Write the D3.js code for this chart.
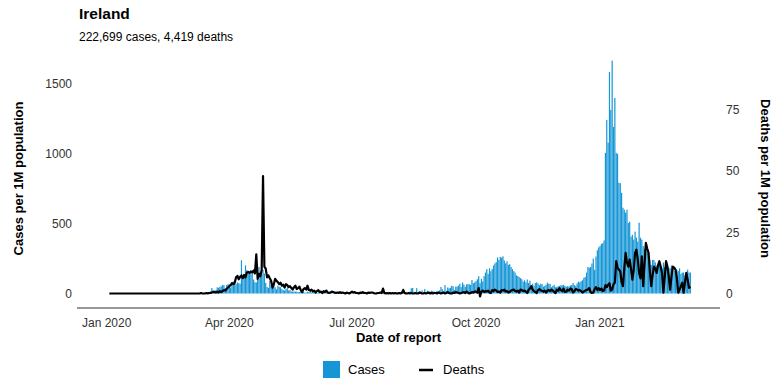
<!DOCTYPE html>
<html lang="en">
<head>
  <meta charset="UTF-8" />
  <title>Ireland - cases and deaths</title>
  <script src="https://d3js.org/d3.v7.min.js"></script>
  <style>
    html, body {
      margin: 0;
      padding: 0;
      background: #fff;
      overflow: hidden;
      font-family: 'Liberation Sans', Arial, Helvetica, sans-serif;
    }
    svg { display: block; }
  </style>
</head>
<body>
  <svg width="784" height="392"></svg>

  <script>
    const title = "Ireland";
    const subtitle = "222,699 cases, 4,419 deaths";
    const firstDay = Date.UTC(2020, 0, 3);

    // daily cases per 1M population, from Jan 3 2020
    const cases = [
      0,0,0,0,0,0,0,0,0,0,0,0,0,0,0,0,0,0,0,0,0,0,0,0,0,0,0,0,0,
      0,0,0,0,0,0,0,0,0,0,0,0,0,0,0,0,0,0,0,0,0,0,0,0,0,0,0,0,0,
      0,0,0.2,0.4,1.2,1,0.6,0.4,0.8,2, 2,1.8,5.5,4,7.9,8,11,15,39,25, 21,24,44,41,48,52,61,60,40,60,66,
      66,43,81,86,79,67,79,74,70,238, 101,112,201,168,150,147,144,157,100,81, 79,128,190,117,142,170,142,76,47,40,
      90,60,70,68,45,30,55,48,45,32, 24,22,32,43,21,26,14,14,15,13, 13,11,11,12,8,12,6,7,13,10,15,
      7,3,4,5,4,7,4,3,2,3, 4,5,4,3,2,3,3,4,3,2, 2,2,1,1,2,3,2,1,3,2,
      3,2,1,2,2,1,2,2,3,4, 4,5,3,4,4,2,5,4,5,6, 4,3,4,7,6,9,4,6,8,4,6,
      6,8,5,9,7,11,6,35,14,10, 7,8,14,38,40,13,11,38,10,15, 14,22,11,32,11,20,13,13,20,18,13,
      10,19,15,23,47,31,18,60,20,43, 37,41,55,52,25,50,49,56,70,46, 79,64,48,65,67,66,62,96,74,79,
      89,102,124,74,105,87,124,150,175,140, 180,160,175,200,215,225,258,240,262,257, 266,236,216,230,205,210,190,175,160,150,130,
      125,118,110,102,85,95,80,100,75,92, 62,70,55,75,80,72,60,70,68,50, 55,63,78,70,68,45,55,62,45,48,
      52,55,60,58,62,55,48,53,50,58, 62,75,60,55,72,85,80,88,95,112, 118,150,190,185,190,215,250,170,265,310, 330,
      340,355,360,380,1007,1243,1080,1586,1314,1667, 1193,1400,1007,1000,793,790,721,614,600,579, 600,505,514,407,420,386,443,400,371,507,400,
      386,340,320,300,293,270,240,205,240,240, 222,200,190,200,185,180,222,190,180,190, 185,180,200,180,160,140,170,160,
      180,140,150,150,130,140,170,150,150
    ];

    // daily deaths per 1M population, same days
    const deaths = [
      0,0,0,0,0,0,0,0,0,0,0,0,0,0,0,0,0,0,0,0,0,0,0,0,0,0,0,0,0,
      0,0,0,0,0,0,0,0,0,0,0,0,0,0,0,0,0,0,0,0,0,0,0,0,0,0,0,0,0,
      0,0,0,0,0,0,0,0,0,0, 0.2,0,0,0,0.2,0,0.2,0.2,0.4,0.6, 0.6,0.4,0.8,0.4,1,0.6,1,1.4,1.2,1.8,2.4,
      3,3.4,4.2,3.8,4.4,6.6,7.2,5.8,6.8,7.4, 6.2,7.6,6.6,8.6,8.8,8.4,9,8.6,9.4,8.2, 16,6,8,7,9.6,48,11,10.2,6.6,7.4,
      6.2,5.2,2.4,3.8,6,5.2,4.6,3.8,4.4,3.2, 3.6,2.4,3.8,3.4,2.6,3,2.2,1.6,2.6,3.2, 1.8,2.2,2.8,1.4,0.6,1.8,2.2,1.6,3.2,1.4,1.2,
      1.6,0.8,1.2,0.4,1,1.4,0.6,0.8,0.2,1, 0.6,1.2,0.4,0.2,0.4,0.8,0.6,0.4,0.2,0.4, 0.2,0.6,0.2,0.4,0.2,0,0.4,0.2,0,0.4,
      0.8,0.4,0.6,0.2,0.2,0,0.4,0.2,0.6,0.2, 0.2,0,0.4,0.2,0.4,0.4,0.2,0,0,0.2, 0.2,0.4,0.2,2,0.2,0,0.2,0,0.2,0,0.2,
      0,0.2,0,0,0.2,0,0.2,1.4,0.2,0, 0,0.2,0,0.2,0,0,0.2,0,0,0.4, 0.2,0,0,0.2,0,0.2,0.4,0,0.2,0,0.2,
      0.2,0,0.4,0.2,0,0.2,0.4,0,0.2,0.6, 0.2,0,0,0.4,0.2,0.6,0.4,0.2,0,0.2, 0.4,0.6,0.2,0.8,0.4,0,0.2,0.6,0.4,0.8,
      0.8,0.4,2.2,-1.2,0.8,1.2,0.6,1,0.8,1.2, 0.4,0.2,1.4,1,1.6,1.2,0.6,0.8,0.4,1.4, 1.2,1.6,0.8,1,0.4,0.6,1.2,1.4,1.6,1,0.8,
      1.2,0.4,1.6,1.4,1,1.2,0.8,0.2,1.4,2, 3,1.6,1,0.6,0.2,1.4,1.8,1.4,1,0.8, 1.2,0.4,1.2,1.4,1,1.6,1.2,0.6,0.2,1.6,
      1.2,2.2,1.4,1,2,0.6,0.8,1.6,1.2,2, 1.8,0.4,1,1.8,1.6,1.2,1.4,1,0.4,0.8, 1.2,1.4,1.6,2.2,0.6,0.2,0.4,1.8,2.6,1.4,2.2,
      1.4,2,1,1.2,3.4,2.6,3.6,4.2,1.2,1.6, 3.8,4.4,13.2,10.6,9.8,9,4.6,3,10.4,16.6, 12.6,11,13.9,10,5.7,9.6,16.6,17.9,14,8.4,6.2,
      15.2,3,12,20.7,18.4,16.6,9,3,7.4,11, 10.2,8.4,11.4,13.2,11,8.4,0.3,6.6,13.2,11, 7,1.6,6.8,11,10.6,9.8,6.4,0.3,
      1.6,3,4.4,0.3,4.6,8.4,5.6,2.3,2.8
    ];

    const caseTicks = [0, 500, 1000, 1500];
    const deathTicks = [0, 25, 50, 75];
    const dateTicks = [
      Date.UTC(2020, 0, 1), Date.UTC(2020, 3, 1), Date.UTC(2020, 6, 1),
      Date.UTC(2020, 9, 1), Date.UTC(2021, 0, 1)
    ];

    const svg = d3.select("svg");
    const blue = "#1696d6";
    const day = 24 * 3600 * 1000;
    const dates = cases.map((_, i) => new Date(firstDay + i * day));

    const x = d3.scaleUtc()
      .domain([new Date(Date.UTC(2019, 11, 10)), new Date(Date.UTC(2021, 2, 31))])
      .range([77, 720]);
    const yCases = d3.scaleLinear().domain([0, 1500]).range([293.5, 84]);
    const yDeaths = d3.scaleLinear().domain([0, 75]).range([293.5, 110]);

    // title block
    svg.append("text")
      .attr("x", 79).attr("y", 19)
      .style("font-size", "15.5px").style("font-weight", "bold")
      .text(title);
    svg.append("text")
      .attr("x", 79).attr("y", 41)
      .style("font-size", "12px")
      .text(subtitle);

    // bars
    const bw = 1.2;
    svg.append("g")
      .selectAll("rect")
      .data(cases.map((v, i) => ({ d: dates[i], v: v })).filter(p => p.v > 0))
      .enter()
      .append("rect")
      .attr("x", p => x(p.d) - bw / 2)
      .attr("width", bw)
      .attr("y", p => yCases(p.v))
      .attr("height", p => yCases(0) - yCases(p.v))
      .attr("fill", blue);

    // deaths line
    const line = d3.line()
      .x((v, i) => x(dates[i]))
      .y(v => yDeaths(v));
    svg.append("path")
      .datum(deaths)
      .attr("d", line)
      .attr("fill", "none")
      .attr("stroke", "#000")
      .attr("stroke-width", 2.2)
      .attr("stroke-linejoin", "round");

    // left axis labels
    svg.append("g")
      .selectAll("text")
      .data(caseTicks)
      .enter()
      .append("text")
      .attr("x", 72)
      .attr("y", d => yCases(d))
      .attr("dy", "0.36em")
      .attr("text-anchor", "end")
      .style("font-size", "12px")
      .style("fill", "#333")
      .text(d => d);

    // right axis labels
    svg.append("g")
      .selectAll("text")
      .data(deathTicks)
      .enter()
      .append("text")
      .attr("x", 726)
      .attr("y", d => yDeaths(d))
      .attr("dy", "0.36em")
      .style("font-size", "12px")
      .style("fill", "#333")
      .text(d => d);

    // x axis
    svg.append("line")
      .attr("x1", x.range()[0]).attr("x2", x.range()[1])
      .attr("y1", 308).attr("y2", 308)
      .attr("stroke", "#333").attr("stroke-width", 1);

    svg.append("g")
      .selectAll("text")
      .data(dateTicks)
      .enter()
      .append("text")
      .attr("x", d => x(new Date(d)))
      .attr("y", 323)
      .attr("dy", "0.36em")
      .attr("text-anchor", "middle")
      .style("font-size", "12px")
      .style("fill", "#333")
      .text(d => d3.utcFormat("%b %Y")(new Date(d)));

    // axis titles
    const midX = (x.range()[0] + x.range()[1]) / 2;
    svg.append("text")
      .attr("x", midX).attr("y", 337)
      .attr("dy", "0.36em")
      .attr("text-anchor", "middle")
      .style("font-size", "13px").style("font-weight", "bold")
      .text("Date of report");

    svg.append("text")
      .attr("transform", "translate(18,178.5) rotate(-90)")
      .attr("dy", "0.36em")
      .attr("text-anchor", "middle")
      .style("font-size", "13px").style("font-weight", "bold")
      .text("Cases per 1M population");

    svg.append("text")
      .attr("transform", "translate(766,178.5) rotate(90)")
      .attr("dy", "0.36em")
      .attr("text-anchor", "middle")
      .style("font-size", "13px").style("font-weight", "bold")
      .text("Deaths per 1M population");

    // legend
    const legend = svg.append("g");
    legend.append("rect")
      .attr("x", 323).attr("y", 361)
      .attr("width", 17).attr("height", 17)
      .attr("fill", blue);
    legend.append("text")
      .attr("x", 348).attr("y", 369.5)
      .attr("dy", "0.36em")
      .style("font-size", "13px")
      .text("Cases");
    legend.append("line")
      .attr("x1", 419).attr("x2", 433)
      .attr("y1", 370).attr("y2", 370)
      .attr("stroke", "#000").attr("stroke-width", 2.5);
    legend.append("text")
      .attr("x", 443).attr("y", 369.5)
      .attr("dy", "0.36em")
      .style("font-size", "13px")
      .text("Deaths");
  </script>
</body>
</html>
